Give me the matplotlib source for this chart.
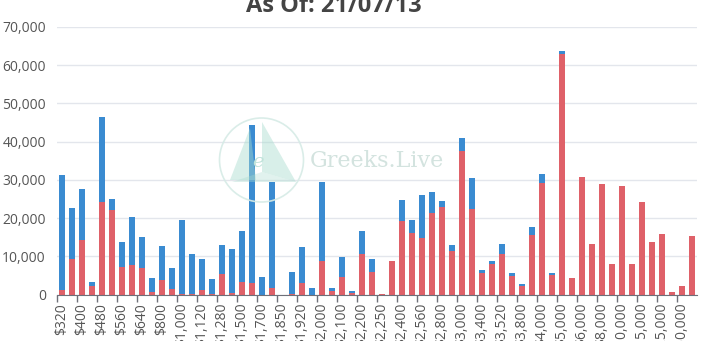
import matplotlib
matplotlib.use("Agg")
import matplotlib.pyplot as plt
from matplotlib.patches import Circle, Polygon
import numpy as np

strikes = ["$320", "$360", "$400", "$440", "$480", "$520", "$560", "$600", "$640", "$720",
           "$800", "$880", "$1,000", "$1,040", "$1,120", "$1,200", "$1,280", "$1,400", "$1,500", "$1,600",
           "$1,700", "$1,800", "$1,850", "$1,900", "$1,920", "$1,950", "$2,000", "$2,050", "$2,100", "$2,150",
           "$2,200", "$2,240", "$2,250", "$2,300", "$2,400", "$2,500", "$2,560", "$2,600", "$2,800", "$2,900",
           "$3,000", "$3,200", "$3,400", "$3,500", "$3,520", "$3,600", "$3,800", "$3,840", "$4,000", "$4,500",
           "$5,000", "$5,500", "$6,000", "$7,000", "$8,000", "$9,000", "$10,000", "$12,000", "$15,000", "$20,000",
           "$25,000", "$30,000", "$50,000", "$100,000"]

puts = [1200, 9400, 14300, 2300, 24100, 22000, 7300, 7700, 7000, 700,
        3700, 1400, 200, 200, 1200, 200, 5400, 300, 3300, 3100,
        0, 1600, 0, 200, 3000, 0, 8700, 900, 4500, 500,
        10600, 5900, 200, 8800, 19200, 16100, 14700, 21300, 22900, 11400,
        37400, 22400, 5600, 7900, 10700, 4900, 2100, 15500, 29200, 5100,
        62900, 4200, 30700, 13100, 28900, 7900, 28300, 8000, 24200, 13800,
        15800, 700, 2100, 15200]

totals = [31300, 22600, 27500, 3300, 46500, 25100, 13700, 20300, 15100, 4400,
          12600, 6800, 19600, 10500, 9400, 4000, 12900, 11800, 16500, 44400,
          4500, 29500, 0, 5800, 12500, 1600, 29500, 1800, 9700, 1000,
          16600, 9300, 200, 8800, 24800, 19600, 26100, 26700, 24500, 12900,
          41000, 30500, 6400, 8800, 13100, 5600, 2800, 17600, 31500, 5600,
          63800, 4200, 30700, 13100, 28900, 7900, 28300, 8000, 24200, 13800,
          15800, 700, 2100, 15200]

calls = [max(t - p, 0) for t, p in zip(totals, puts)]

title = "As Of: 21/07/13"
yticks = [0, 10000, 20000, 30000, 40000, 50000, 60000, 70000]

W, H = 703, 341
fig = plt.figure(figsize=(W / 100, H / 100), dpi=100)
ax = fig.add_axes([57 / W, (H - 294.5) / H, (697 - 57) / W, (294.5 - 26.8) / H])

x = np.arange(len(strikes))
red = "#df6169"
blue = "#3a8bd1"
ax.bar(x, puts, width=0.66, color=red, zorder=3)
ax.bar(x, calls, width=0.66, bottom=puts, color=blue, zorder=3)

ax.set_xlim(-0.5, len(strikes) - 0.5)
ax.set_ylim(0, 70000)
ax.set_yticks(yticks)
ax.set_yticklabels([f"{v:,}" for v in yticks], fontsize=10, color="#555555",
                   fontfamily="Open Sans")
ax.tick_params(axis="y", length=0, pad=8)
ax.grid(axis="y", color="#e3e6ec", linewidth=1, zorder=0)

ax.set_xticks(x[::2])
ax.set_xticklabels(strikes[::2], rotation=90, fontsize=10, color="#555555",
                   fontfamily="Open Sans")
ax.tick_params(axis="x", length=0, pad=6)
# boundary tick marks every two categories
ax.set_xticks(x[::2] - 0.5, minor=True)
ax.tick_params(axis="x", which="minor", length=5, color="#6e7079", width=1)

for s in ["top", "right", "left"]:
    ax.spines[s].set_visible(False)
ax.spines["bottom"].set_color("#6e7079")
ax.spines["bottom"].set_zorder(4)

fig.text(334 / W, 1 - 12 / H, title, ha="center", va="baseline", fontsize=17,
         fontweight="bold", color="#444444", fontfamily="Open Sans")

# watermark
wm = "#a9dccf"
fig.patches.append(Circle((261.5, H - 160), 42, transform=None, fill=False,
                          edgecolor="#d6ebe6", linewidth=1.2, zorder=1, alpha=0.9))
fig.patches.append(Polygon([(230, H - 180), (250, H - 128), (256, H - 180)], closed=True,
                           transform=None, facecolor=wm, edgecolor="none", alpha=0.45, zorder=1))
fig.patches.append(Polygon([(262, H - 122), (296, H - 182), (262, H - 172)], closed=True,
                           transform=None, facecolor=wm, edgecolor="none", alpha=0.45, zorder=1))
fig.patches.append(Polygon([(232, H - 182), (296, H - 182), (262, H - 172)], closed=True,
                           transform=None, facecolor=wm, edgecolor="none", alpha=0.35, zorder=1))
fig.text(258 / W, 1 - 162 / H, "e", fontsize=14, color="#c0e3da", fontstyle="italic",
         fontfamily="DejaVu Serif", ha="center", va="center", zorder=1)
fig.text(310 / W, 1 - 161 / H, "Greeks.Live", fontsize=16, color="#d3e3df",
         fontfamily="DejaVu Serif", ha="left", va="center", zorder=1)

fig.savefig("out.png", dpi=100)
